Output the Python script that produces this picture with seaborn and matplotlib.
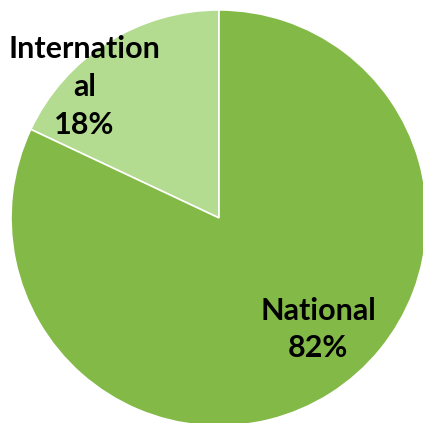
import matplotlib
matplotlib.use("Agg")
import matplotlib.pyplot as plt
import seaborn as sns

categories = ["International", "National"]
shares = [18, 82]
label_text = ["Internation\nal\n18%", "National\n82%"]

sns.set_theme(style="white")
plt.rcParams['font.family'] = ['Lato', 'DejaVu Sans']
colors = ["#b3dc91", "#83b946"]

fig = plt.figure(figsize=(4.23, 4.23), dpi=100)
ax = fig.add_axes([0.026, -0.007, 0.9835, 0.9835])
ax.pie(shares, colors=colors, startangle=90, counterclock=True,
       radius=1, wedgeprops=dict(edgecolor="white", linewidth=1.2))
ax.set_xlim(-1, 1)
ax.set_ylim(-1, 1)
ax.set_aspect("equal")
ax.axis("off")

# label placement (axes fraction)
pos = [(0.176, 0.815), (0.738, 0.232)]
for txt, (x, y) in zip(label_text, pos):
    ax.text(x, y, txt, transform=ax.transAxes, ha="center", va="center",
            fontsize=22, fontweight="bold", color="black", linespacing=1.42)

fig.savefig("out.png", dpi=100)
